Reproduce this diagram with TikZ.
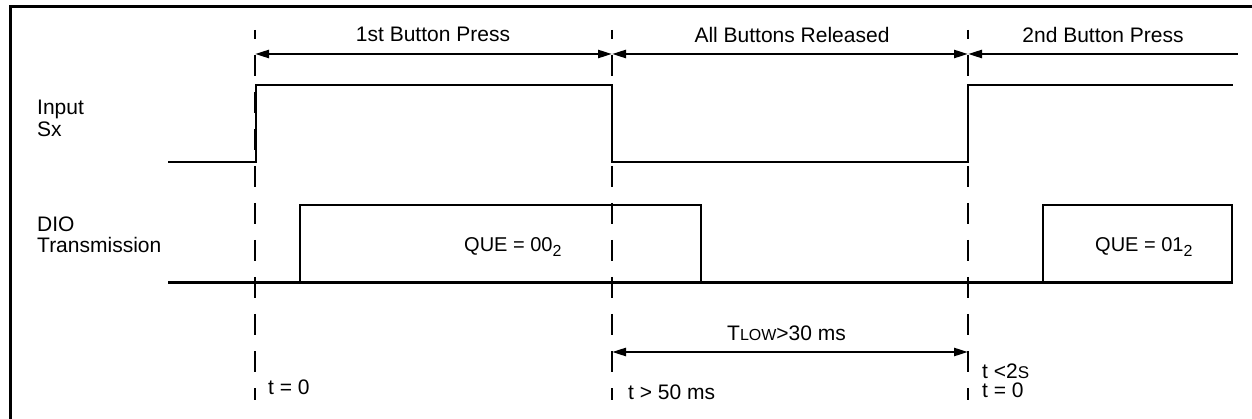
\documentclass[tikz,border=0pt]{standalone}
\usepackage{fontspec}
\setmainfont{Liberation Sans}
\usetikzlibrary{arrows.meta}
\begin{document}
\begin{tikzpicture}[x=1pt,y=-1pt,
  frame/.style={line width=2.6pt},
  sig/.style={line width=2.6pt, line join=miter},
  baseln/.style={line width=3pt},
  guide/.style={line width=2.4pt, dash pattern=on 21pt off 16pt, dash phase=12pt},
  tipT/.tip={Triangle[length=14pt,width=8pt]},
  dim/.style={line width=2.4pt},
  lbl/.style={inner sep=0pt, anchor=base west, font=\fontsize{21}{25}\selectfont},
  clbl/.style={inner sep=0pt, anchor=base, font=\fontsize{21}{25}\selectfont},
  quelbl/.style={inner sep=0pt, anchor=base west, font=\fontsize{20}{24}\selectfont}]
\useasboundingbox (0,0) rectangle (1252,419);

% frame (top and left edges)
\coordinate (fbl) at (10.5,419);
\coordinate (ftl) at (10.5,6.7);
\coordinate (ftr) at (1252,6.7);
\draw[frame] (fbl) -- (ftl) -- (ftr);

% dashed guides
\foreach \n/\x in {1/255,2/612,3/968}{
  \coordinate (g\n t) at (\x,30);
  \coordinate (g\n b) at (\x,400);
  \draw[guide] (g\n t) -- (g\n b);
}

% top dimension arrows
\coordinate (a1) at (255,54);
\coordinate (a2) at (612,54);
\coordinate (a3) at (968,54);
\coordinate (a4) at (1238,54);
\draw[dim, tipT-tipT] (a1) -- (a2);
\draw[dim, tipT-tipT] (a2) -- (a3);
\draw[dim, tipT-] (a3) -- (a4);

\node[clbl] (p1) at (433,42) {1st Button Press};
\node[clbl] (rel) at (792,43) {All Buttons Released};
\node[clbl] (p2) at (1103,43) {2nd Button Press};

% Input Sx signal
\coordinate (s0) at (168,162);
\coordinate (s1) at (256,162);
\coordinate (s2) at (256,85);
\coordinate (s3) at (612,85);
\coordinate (s4) at (612,162);
\coordinate (s5) at (968,162);
\coordinate (s6) at (968,85);
\coordinate (s7) at (1233,85);
\draw[sig] (s0) -- (s1) -- (s2) -- (s3) -- (s4) -- (s5) -- (s6) -- (s7);

\node[lbl] (in1) at (37,115) {Input};
\node[lbl] (in2) at (37,137) {Sx};

% DIO transmission
\coordinate (b0) at (168,283);
\coordinate (b1) at (1233,283);
\draw[baseln] (b0) -- (b1);
\coordinate (q1a) at (300,283);
\coordinate (q1b) at (701,205);
\coordinate (q2a) at (1043,283);
\coordinate (q2b) at (1232,205);
\draw[sig] (q1a) rectangle (q1b);
\draw[sig] (q2a) rectangle (q2b);

\node[lbl] (dio1) at (37,232) {DIO};
\node[lbl] (dio2) at (37,253) {Transmission};

\node[quelbl] (que1) at (464,252) {QUE = 00\raisebox{-5pt}{\fontsize{16}{16}\selectfont 2}};
\node[quelbl] (que2) at (1095,252) {QUE = 01\raisebox{-5pt}{\fontsize{16}{16}\selectfont 2}};

% TLOW arrow
\coordinate (t1) at (612,352);
\coordinate (t2) at (968,352);
\draw[dim, tipT-tipT] (t1) -- (t2);
\node[lbl] (tlow) at (727,341) {T{\fontsize{16}{16}\selectfont LOW}>30 ms};

% time labels
\node[lbl] (tz1) at (268,394) {t = 0};
\node[lbl] (t50) at (628,399) {t > 50 ms};
\node[lbl] (t2s) at (982,378) {t <2{\fontsize{17}{17}\selectfont S}};
\node[lbl] (tz2) at (982,397) {t = 0};
\end{tikzpicture}
\end{document}
